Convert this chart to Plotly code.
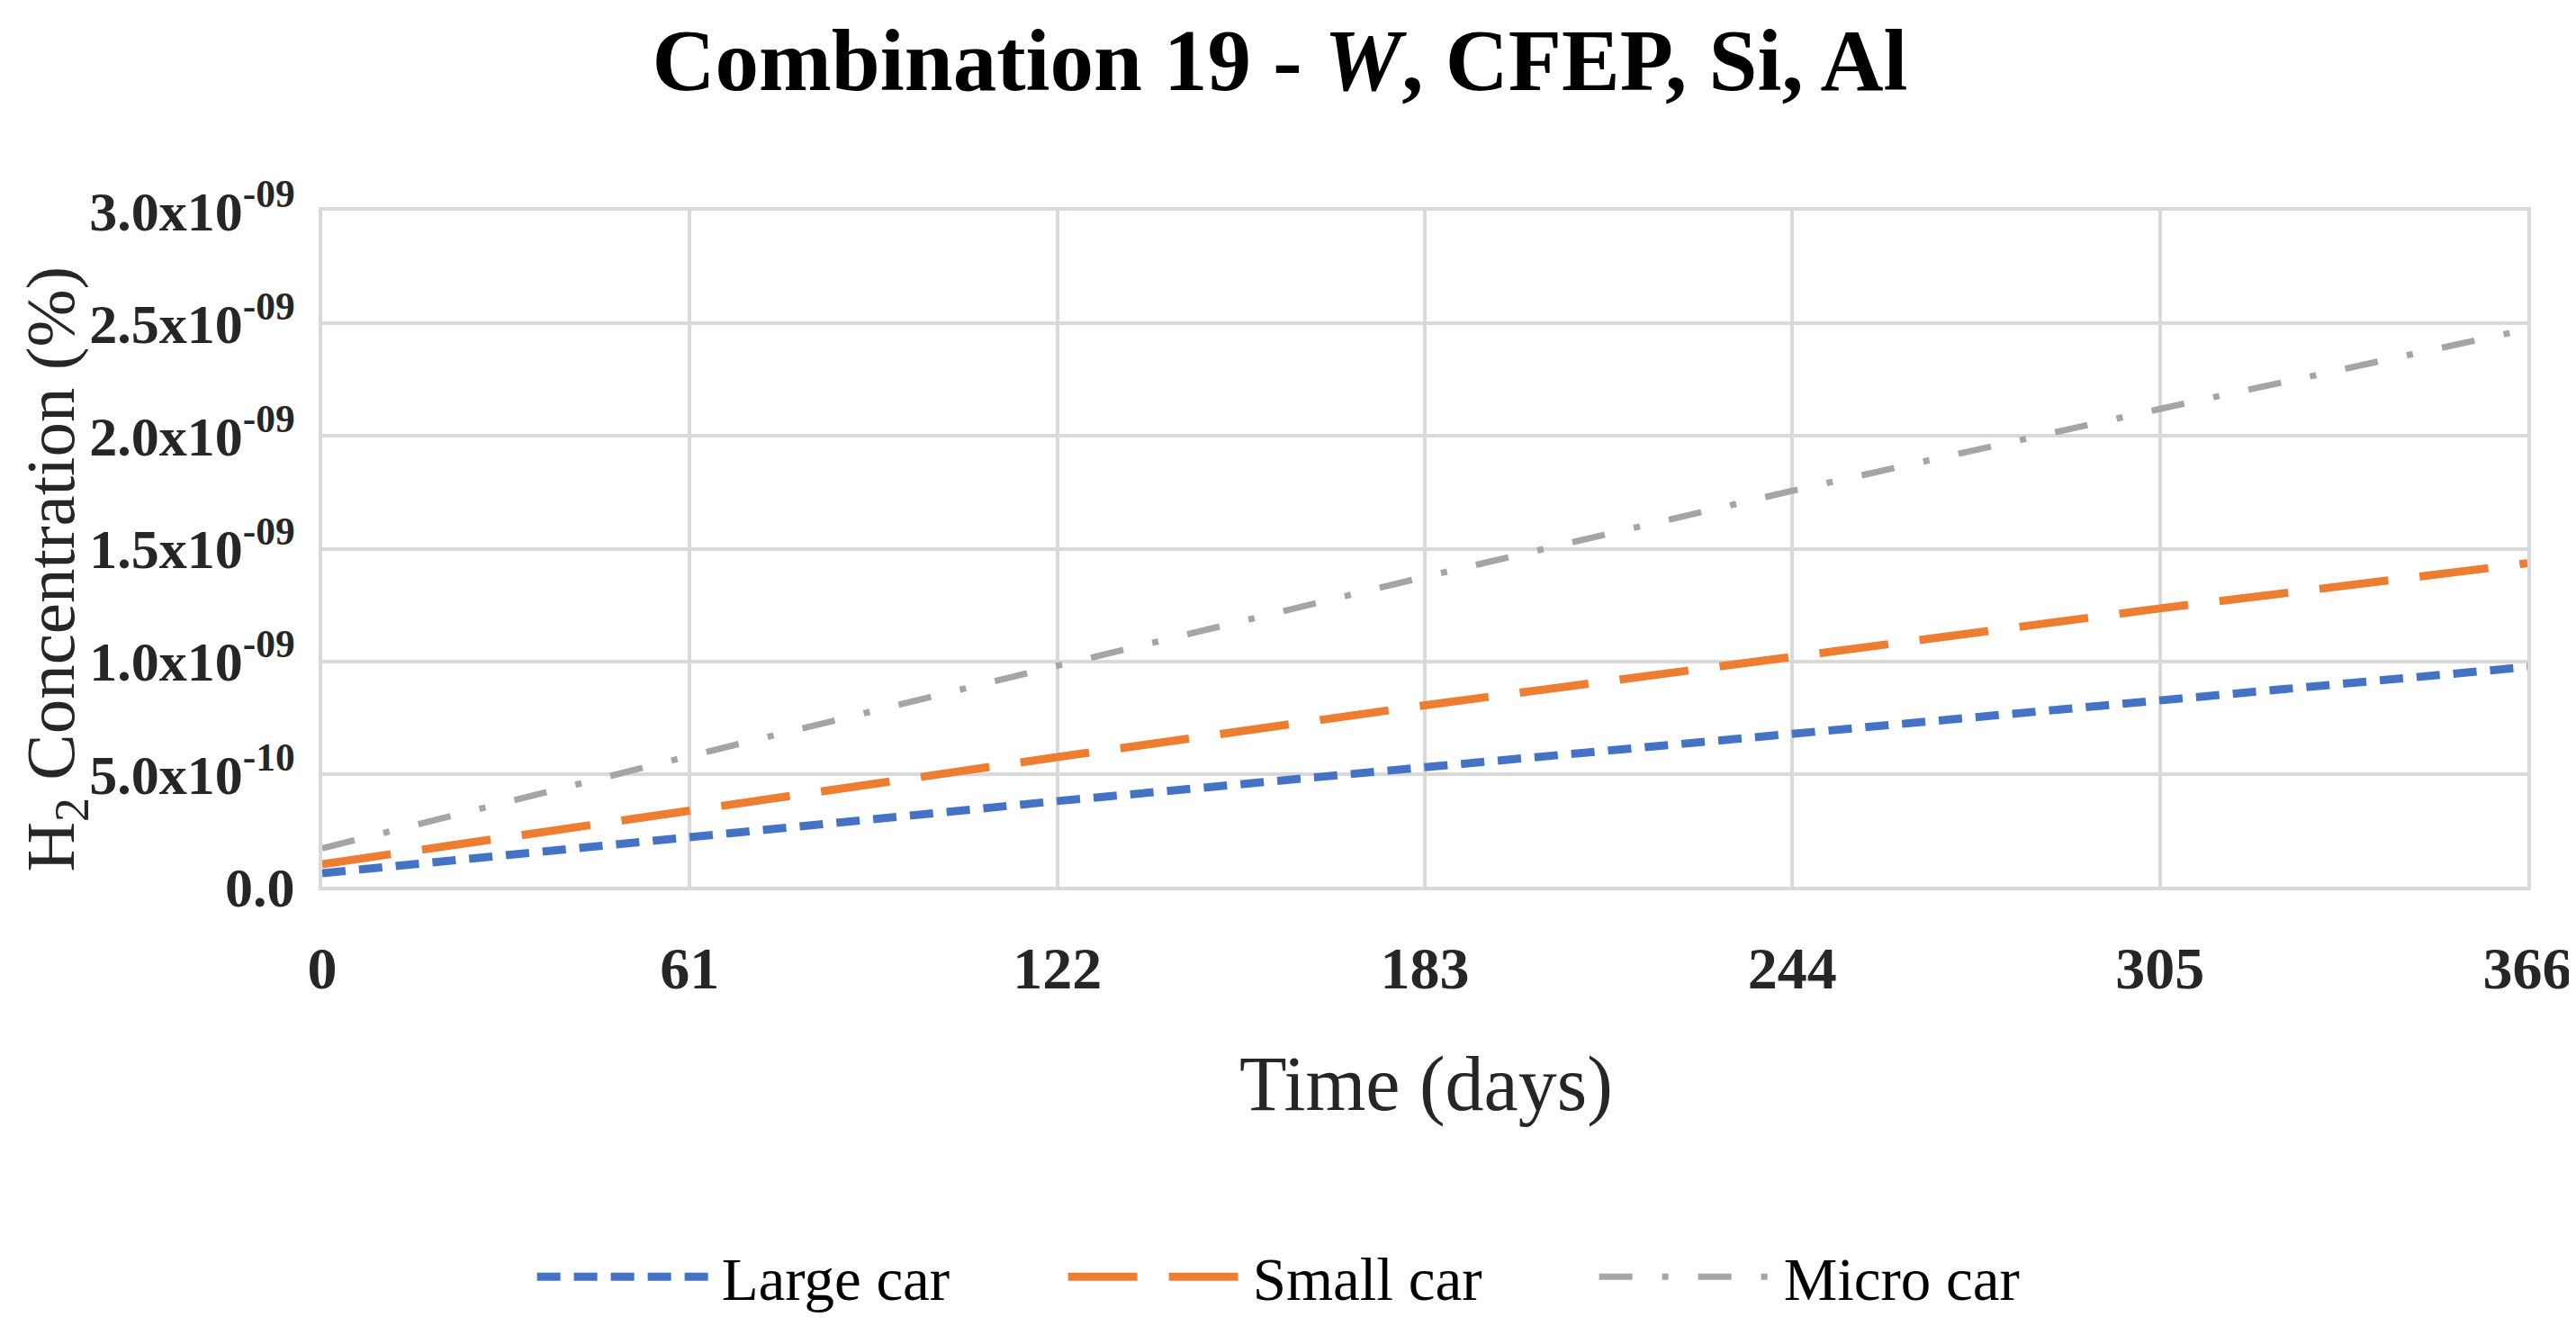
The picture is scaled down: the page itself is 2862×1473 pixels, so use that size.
import plotly.graph_objects as go

days = [0, 61, 122, 183, 244, 305, 366]
large_car = [0.06e-9, 0.22e-9, 0.38e-9, 0.53e-9, 0.68e-9, 0.83e-9, 0.975e-9]
small_car = [0.10e-9, 0.34e-9, 0.575e-9, 0.805e-9, 1.02e-9, 1.235e-9, 1.435e-9]
micro_car = [0.17e-9, 0.58e-9, 0.98e-9, 1.375e-9, 1.757e-9, 2.12e-9, 2.474e-9]

y_tickvals = [0, 0.5e-9, 1.0e-9, 1.5e-9, 2.0e-9, 2.5e-9, 3.0e-9]
y_ticktext = ["0.0", "5.0x10<sup>-10</sup>", "1.0x10<sup>-09</sup>", "1.5x10<sup>-09</sup>",
              "2.0x10<sup>-09</sup>", "2.5x10<sup>-09</sup>", "3.0x10<sup>-09</sup>"]
x_tickvals = [0, 61, 122, 183, 244, 305, 366]

FONT = "Liberation Serif"
GRID = "#D9D9D9"

fig = go.Figure()
fig.add_trace(go.Scatter(x=days, y=large_car, mode="lines", name="Large car",
                         line=dict(color="#4472C4", width=9, dash="26px,15px")))
fig.add_trace(go.Scatter(x=days, y=small_car, mode="lines", name="Small car",
                         line=dict(color="#ED7D31", width=9, dash="77px,35px")))
fig.add_trace(go.Scatter(x=days, y=micro_car, mode="lines", name="Micro car",
                         line=dict(color="#A5A5A5", width=7, dash="37px,33px,7px,33px")))

W, H = 2862, 1473
L, R, T, B = 350, 2803, 226, 988
pw, ph = R - L, B - T

fig.update_layout(
    width=W, height=H,
    margin=dict(l=L, r=W - R, t=T, b=H - B, pad=0),
    paper_bgcolor="white", plot_bgcolor="white",
    font=dict(family=FONT, color="#262626"),
    title=dict(text="<b>Combination 19 - <i>W</i>, CFEP, Si, Al</b>",
               x=1414 / W, xanchor="center", y=1 - 58 / H, yanchor="middle",
               yref="container", xref="container",
               font=dict(family=FONT, size=97, color="#000000")),
    xaxis=dict(range=[0, 366], tickvals=x_tickvals, ticktext=[str(v) for v in x_tickvals],
               showgrid=True, gridcolor=GRID, gridwidth=4, zeroline=False,
               showline=True, linecolor=GRID, linewidth=4, mirror=True,
               ticks="", ticklabelstandoff=30,
               tickfont=dict(family=FONT, size=66, color="#262626", weight="bold")),
    yaxis=dict(range=[0, 3.0e-9], tickvals=y_tickvals, ticktext=y_ticktext,
               showgrid=True, gridcolor=GRID, gridwidth=4, zeroline=False,
               showline=True, linecolor=GRID, linewidth=4, mirror=True,
               ticks="", ticklabelstandoff=14,
               tickfont=dict(family=FONT, size=62, color="#262626", weight="bold")),
    showlegend=True,
    legend=dict(orientation="h", x=(1470 - L) / pw, xanchor="center",
                y=(B - 1428) / ph, yanchor="middle",
                font=dict(family=FONT, size=67, color="#000000"),
                itemwidth=200, entrywidth=375, tracegroupgap=0),
)

fig.add_annotation(text="Time (days)", xref="paper", yref="paper",
                   x=(1578 - L) / pw, y=(B - 1210) / ph, xanchor="center", yanchor="middle",
                   showarrow=False, font=dict(family=FONT, size=86, color="#262626"))
fig.add_annotation(text="H<sub>2</sub> Concentration (%)", xref="paper", yref="paper",
                   x=(53 - L) / pw, y=(B - 630) / ph, xanchor="center", yanchor="middle",
                   textangle=-90, showarrow=False,
                   font=dict(family=FONT, size=77, color="#262626"))

fig.write_html("out.html")
